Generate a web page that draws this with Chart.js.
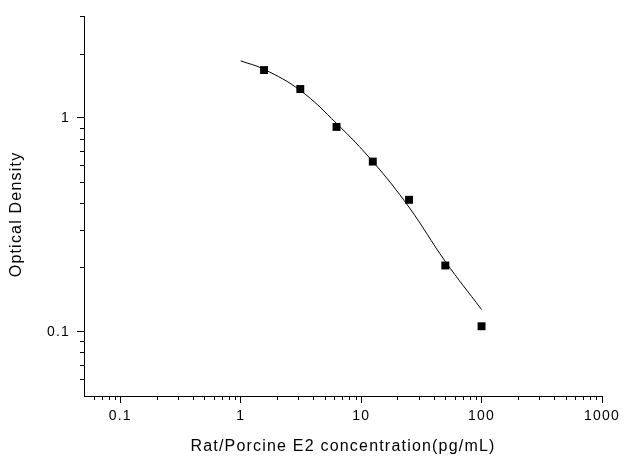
<!DOCTYPE html>
<html>
<head>
<meta charset="utf-8">
<script src="https://cdn.jsdelivr.net/npm/chart.js@4.4.0/dist/chart.umd.min.js"></script>
<style>
  html, body { margin: 0; padding: 0; background: #fff; }
  #wrap { width: 626px; height: 465px; }
</style>
</head>
<body>
<div id="wrap"><canvas id="chartKurvaStandar"></canvas></div>
<script>
// titik standar (konsentrasi pg/mL vs OD)
const konsentrasi = [1.5625, 3.125, 6.25, 12.5, 25, 50, 100];
const nilaiOD = [1.675, 1.366, 0.908, 0.625, 0.414, 0.204, 0.106];

// garis fit
const kurvaX = [1, 1.5625, 3.125, 6.25, 12.5, 25, 50, 100];
const kurvaY = [1.85, 1.69, 1.345, 0.943, 0.625, 0.382, 0.213, 0.127];

// tick sumbu
const tickMayorX = [0.1, 1, 10, 100, 1000];
const tickMinorX = [0.06, 0.07, 0.08, 0.09,
  0.2, 0.3, 0.4, 0.5, 0.6, 0.7, 0.8, 0.9,
  2, 3, 4, 5, 6, 7, 8, 9,
  20, 30, 40, 50, 60, 70, 80, 90,
  200, 300, 400, 500, 600, 700, 800, 900];
const tickMayorY = [0.1, 1];
const tickMinorY = [0.06, 0.07, 0.08, 0.09,
  0.2, 0.3, 0.4, 0.5, 0.6, 0.7, 0.8, 0.9, 2, 3];

const labelX = 'Rat/Porcine E2 concentration(pg/mL)';
// spasi di belakang supaya judul turun sedikit seperti aslinya
const labelY = 'Optical Density\u00a0\u00a0\u00a0';

function buatTicks(mayor) {
  return mayor.map(v => ({ value: v, major: true }));
}

// spasi huruf seperti gambar asli
const spasiHuruf = {
  id: 'spasiHuruf',
  beforeLayout(chart) { chart.ctx.letterSpacing = '1.2px'; },
  beforeDraw(chart) { chart.ctx.letterSpacing = '1.2px'; }
};

// tick minor lebih pendek dari tick mayor
const tickMinor = {
  id: 'tickMinor',
  afterDraw(chart) {
    const ctx = chart.ctx;
    const sx = chart.scales.x, sy = chart.scales.y;
    ctx.save();
    ctx.strokeStyle = '#000';
    ctx.lineWidth = 1;
    ctx.beginPath();
    tickMinorX.forEach(v => {
      const p = Math.round(sx.getPixelForValue(v)) + 0.5;
      ctx.moveTo(p, sx.top);
      ctx.lineTo(p, sx.top + 4);
    });
    tickMinorY.forEach(v => {
      const p = Math.round(sy.getPixelForValue(v)) + 0.5;
      ctx.moveTo(sy.right, p);
      ctx.lineTo(sy.right - 4, p);
    });
    ctx.stroke();
    ctx.restore();
  }
};

const fontTick = { family: "'Liberation Sans', Arial, sans-serif", size: 14 };
const fontJudul = { family: "'Liberation Sans', Arial, sans-serif", size: 16 };

const data = {
  datasets: [{
    label: 'Standar',
    data: konsentrasi.map((x, i) => ({ x: x, y: nilaiOD[i] })),
    showLine: false,
    pointStyle: 'rect',
    pointRadius: 5.6,
    pointBorderWidth: 0,
    pointBackgroundColor: '#000',
    order: 1
  }, {
    label: 'Fit',
    data: kurvaX.map((x, i) => ({ x: x, y: kurvaY[i] })),
    showLine: true,
    borderColor: '#000',
    borderWidth: 1,
    pointRadius: 0,
    tension: 0.4,
    fill: false,
    order: 2
  }]
};

const config = {
  type: 'scatter',
  data: data,
  plugins: [spasiHuruf, tickMinor],
  options: {
    responsive: true,
    maintainAspectRatio: false,
    animation: false,
    layout: { padding: { top: 16, right: 24, left: 0, bottom: 0 } },
    plugins: {
      legend: { display: false },
      tooltip: { enabled: false }
    },
    scales: {
      x: {
        type: 'logarithmic',
        min: 0.05,
        max: 1000,
        bounds: 'data',
        afterBuildTicks: s => { s.ticks = buatTicks(tickMayorX); },
        afterFit: s => { s.height = 69; },
        border: { display: true, color: '#000', width: 1 },
        grid: { drawOnChartArea: false, drawTicks: true, tickLength: 7, tickColor: '#000' },
        ticks: {
          autoSkip: false,
          maxRotation: 0,
          padding: 5,
          color: '#000',
          font: fontTick,
          callback: v => String(v)
        },
        title: {
          display: true,
          text: labelX,
          color: '#000',
          font: fontJudul,
          padding: { top: 0, bottom: 9 }
        }
      },
      y: {
        type: 'logarithmic',
        min: 0.05,
        max: 3,
        bounds: 'data',
        afterBuildTicks: s => { s.ticks = buatTicks(tickMayorY); },
        afterFit: s => { s.width = 84; },
        border: { display: true, color: '#000', width: 1 },
        grid: { drawOnChartArea: false, drawTicks: true, tickLength: 7, tickColor: '#000' },
        ticks: {
          autoSkip: false,
          padding: 7,
          color: '#000',
          font: fontTick,
          callback: v => String(v)
        },
        title: {
          display: true,
          text: labelY,
          color: '#000',
          font: fontJudul,
          padding: { top: 7, bottom: 0 }
        }
      }
    }
  }
};

const chartKurvaStandar = new Chart(document.getElementById('chartKurvaStandar'), config);
</script>
</body>
</html>
